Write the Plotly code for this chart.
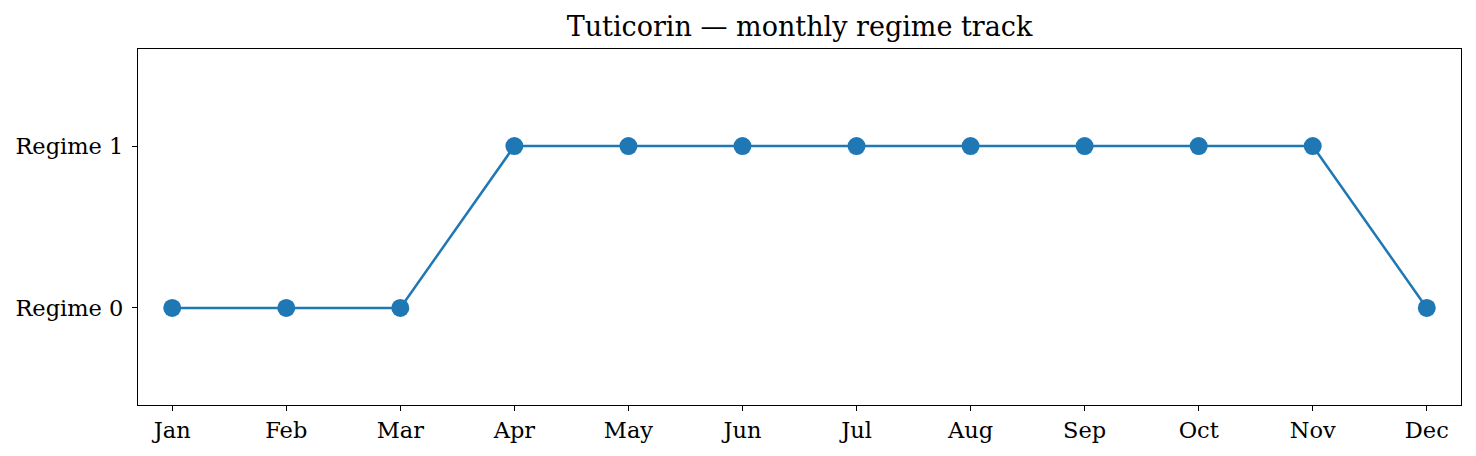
import plotly.graph_objects as go

months = ["Jan", "Feb", "Mar", "Apr", "May", "Jun", "Jul", "Aug", "Sep", "Oct", "Nov", "Dec"]
regime = [0, 0, 0, 1, 1, 1, 1, 1, 1, 1, 1, 0]
regime_labels = ["Regime 0", "Regime 1"]

x_idx = list(range(len(months)))

fig = go.Figure()
fig.add_trace(go.Scatter(
    x=x_idx, y=regime, mode="lines+markers",
    line=dict(color="#1f77b4", width=2.5),
    marker=dict(color="#1f77b4", size=18),
    showlegend=False,
))

font = "DejaVu Serif, serif"
fig.update_layout(
    width=1476, height=456,
    margin=dict(l=138, r=15, t=49, b=51),
    paper_bgcolor="white", plot_bgcolor="white",
    font=dict(family=font, size=22.5, color="black"),
    title=dict(text="Tuticorin — monthly regime track", x=0.5, xanchor="center", xref="paper",
               y=1 - 27 / 456, yanchor="middle", font=dict(family=font, size=27, color="black")),
)
fig.update_xaxes(
    range=[-0.3, 11.3], tickmode="array", tickvals=x_idx, ticktext=months,
    showgrid=False, zeroline=False, showline=True, linecolor="black", linewidth=1.2,
    mirror=True, ticks="outside", ticklen=5, tickwidth=1.2, tickcolor="black",
    ticklabelstandoff=0,
)
fig.update_yaxes(
    range=[-0.6, 1.6], tickmode="array", tickvals=[0, 1], ticktext=regime_labels,
    showgrid=False, zeroline=False, showline=True, linecolor="black", linewidth=1.2,
    mirror=True, ticks="outside", ticklen=5, tickwidth=1.2, tickcolor="black",
    ticklabelstandoff=4,
)

fig.write_html("out.html")
